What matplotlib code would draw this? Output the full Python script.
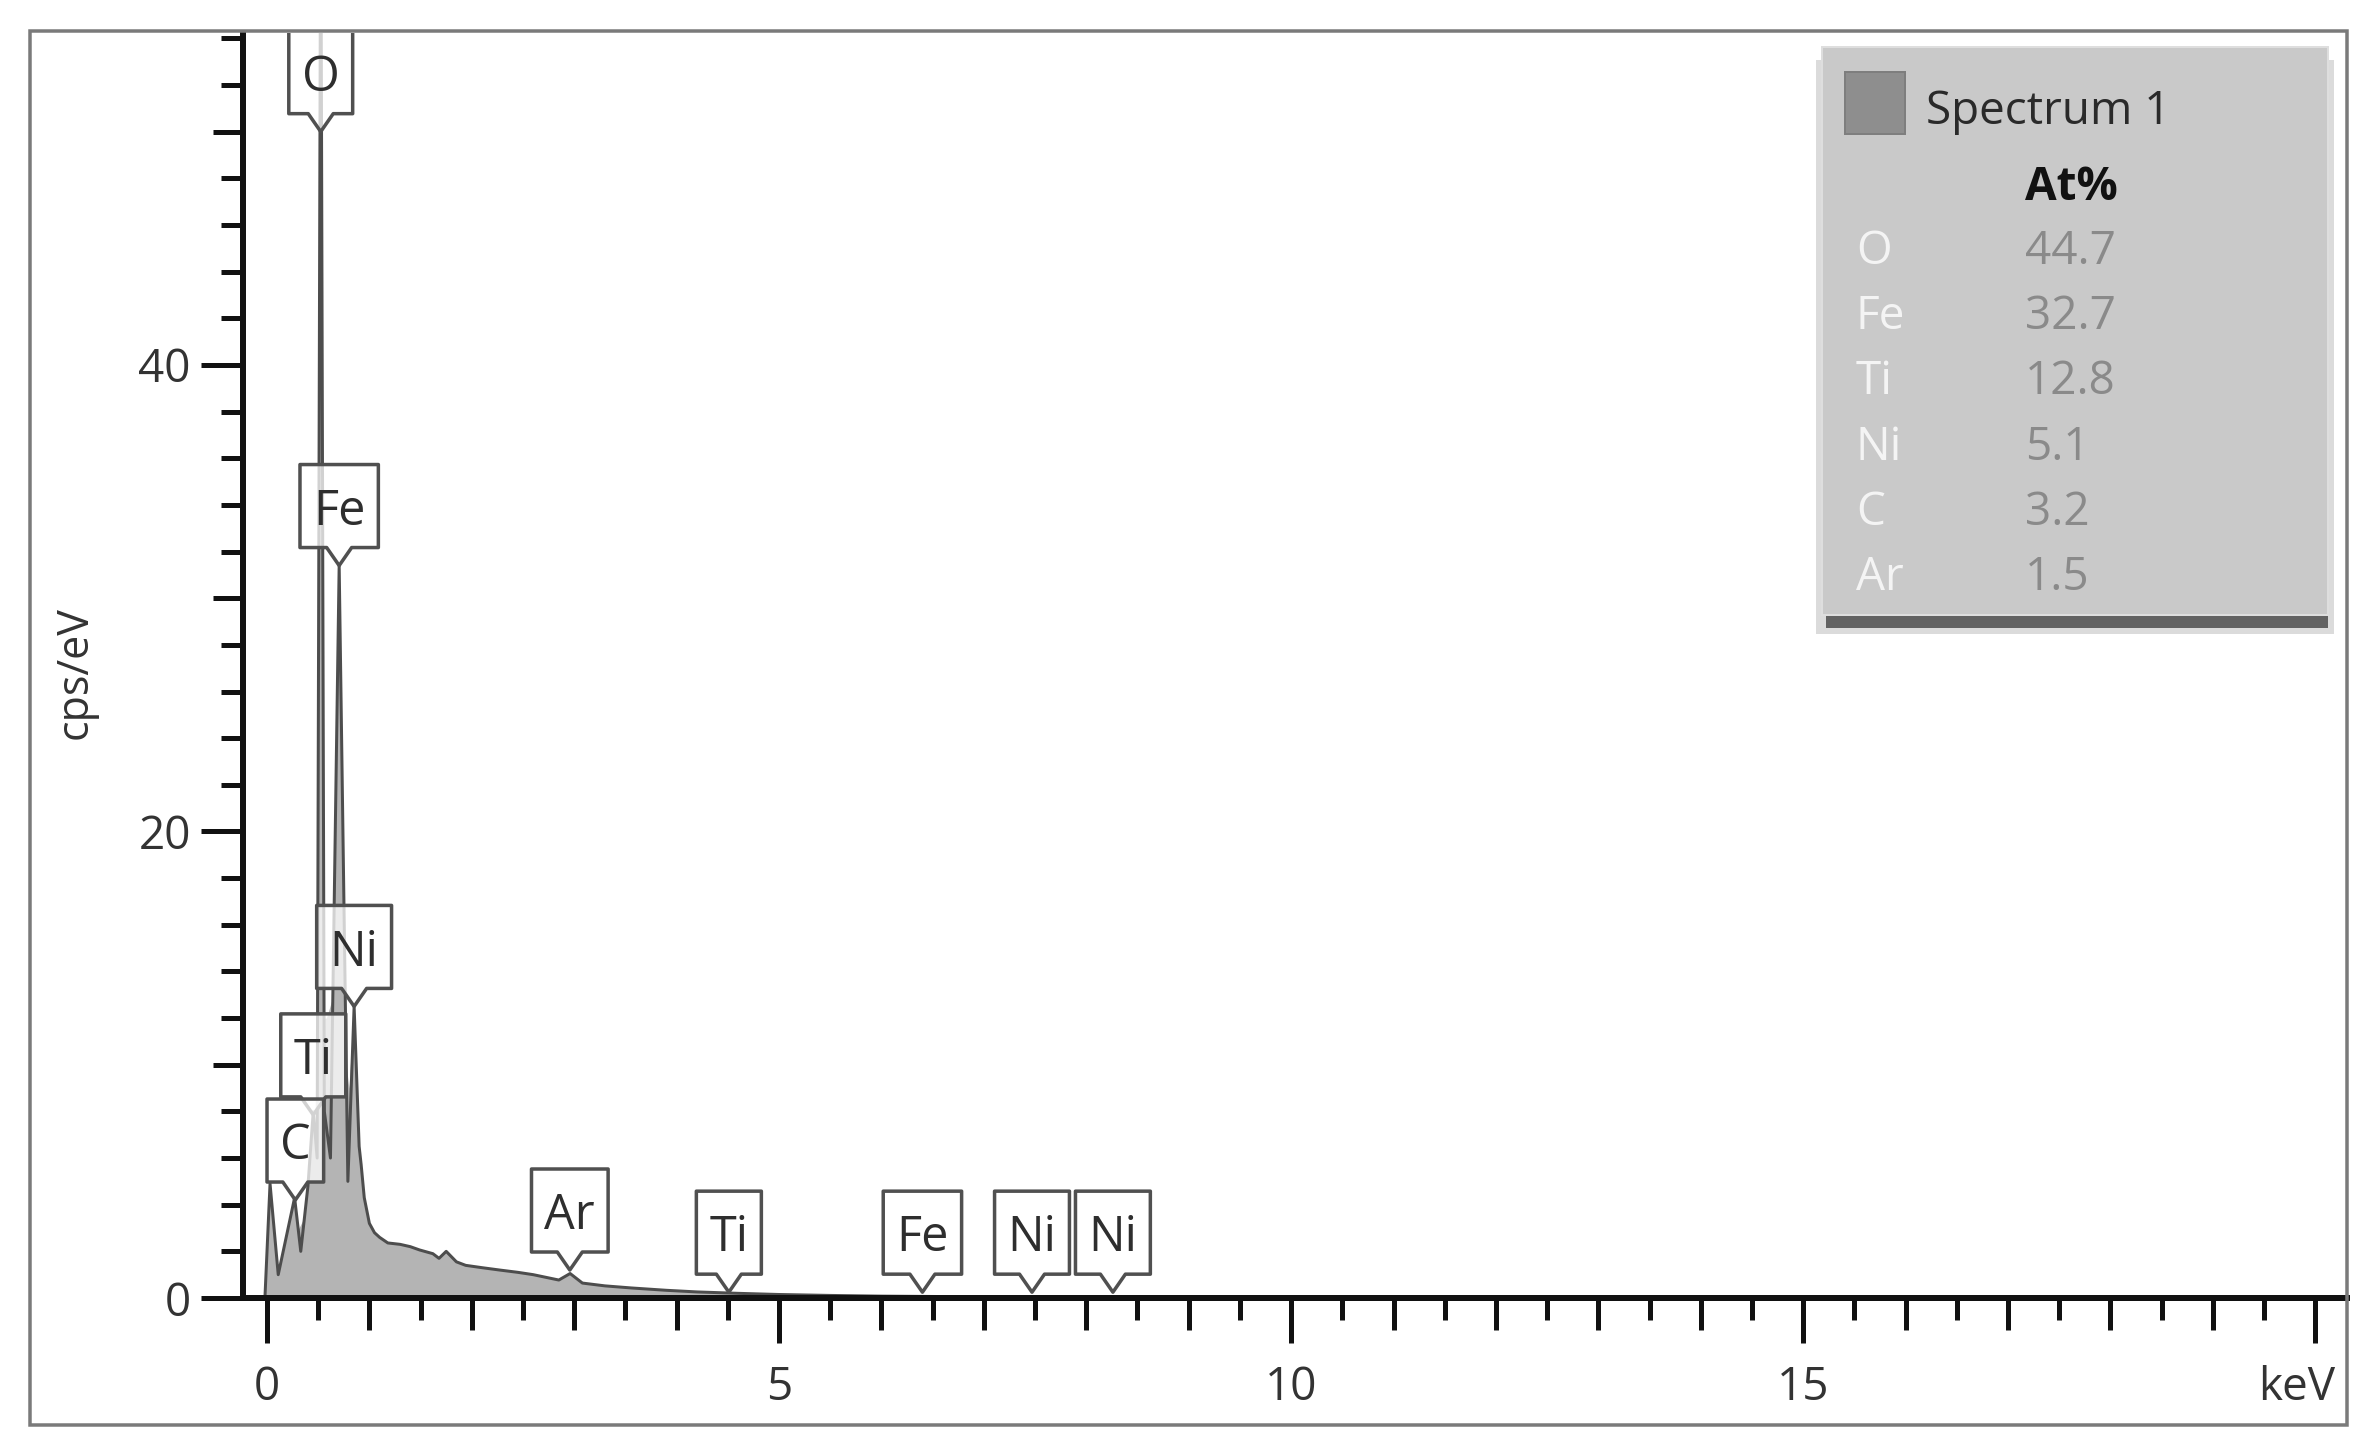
import numpy as np
import matplotlib
matplotlib.use('Agg')
import matplotlib.pyplot as plt
import matplotlib.patches as mpatches
import matplotlib.transforms as mtransforms
from matplotlib.path import Path

plt.rcParams['font.family'] = ['Open Sans', 'DejaVu Sans']

# spectrum outline, keV vs cps/eV
line_kev = [-0.02, 0.03, 0.11, 0.27, 0.33, 0.40, 0.452, 0.49, 0.525, 0.56, 0.62, 0.705,
            0.79, 0.851, 0.90, 0.92, 0.95, 1.00, 1.05, 1.10, 1.18, 1.30, 1.40, 1.49,
            1.62, 1.68, 1.75, 1.85, 1.94, 2.10, 2.27, 2.45, 2.60, 2.85, 2.96, 3.08,
            3.30, 3.56, 3.90, 4.20, 4.60, 5.00, 5.50, 6.00, 7.00, 8.00, 9.00, 10.0,
            12.0, 15.0, 20.3]
line_cps = [0.0, 4.9, 1.0, 4.3, 2.0, 4.8, 8.0, 6.0, 62.0, 8.0, 6.0, 31.4,
            5.0, 12.5, 6.5, 5.7, 4.3, 3.2, 2.8, 2.6, 2.36, 2.3, 2.2, 2.06,
            1.9, 1.7, 2.0, 1.55, 1.4, 1.3, 1.2, 1.1, 1.0, 0.77, 1.05, 0.64,
            0.52, 0.43, 0.33, 0.26, 0.2, 0.15, 0.11, 0.08, 0.05, 0.03, 0.02, 0.02,
            0.01, 0.01, 0.0]

# filled envelope under the low energy peaks
env_kev = [-0.02, 0.0, 0.10, 0.20, 0.30, 0.37, 0.45, 0.50, 0.53, 0.58, 0.65, 0.72,
           0.80, 0.85, 0.90, 0.95, 1.0]
env_cps = [0.0, 0.2, 1.2, 2.2, 2.9, 3.5, 4.2, 4.6, 12.0, 12.0, 13.0, 12.0,
           9.0, 12.5, 6.5, 4.3, 3.2]

# peak tags
tag_names = ['O', 'Fe', 'Ni', 'Ti', 'C', 'Ar', 'Ti', 'Fe', 'Ni', 'Ni']
tag_kev = [0.525, 0.705, 0.851, 0.452, 0.277, 2.957, 4.51, 6.40, 7.47, 8.26]
tag_cps = [50.0, 31.4, 12.5, 7.85, 4.2, 1.2, 0.25, 0.25, 0.25, 0.25]

# quant table
legend_title = 'Spectrum 1'
legend_elements = ['O', 'Fe', 'Ti', 'Ni', 'C', 'Ar']
legend_at = [44.7, 32.7, 12.8, 5.1, 3.2, 1.5]

W, H = 2372, 1454
DPI = 100
fig = plt.figure(figsize=(W / DPI, H / DPI), dpi=DPI)
fig.patch.set_facecolor('white')

def fx(x):
    return x / W

def fy(y):
    return 1 - y / H

def pt(p):
    # pixels -> points
    return p * 72 / DPI

ax = fig.add_axes([fx(243), fy(1298), fx(2347) - fx(243), fy(33) - fy(1298)])
ax.set_xlim(-0.234, 20.31)
ax.set_ylim(0, 54.23)

for s in ['top', 'right']:
    ax.spines[s].set_visible(False)
for s in ['left', 'bottom']:
    ax.spines[s].set_linewidth(pt(6))
    ax.spines[s].set_color('#111111')

# x ticks: 5s long+labelled, integers medium, halves short (20 has no label, keV sits there)
ax.set_xticks([0, 5, 10, 15, 20])
ax.set_xticklabels(['0', '5', '10', '15', ''])
ax.set_xticks(np.arange(0.5, 20.4, 1.0), minor=True)
ax.tick_params(axis='x', which='major', length=pt(45), width=pt(5), color='#111111',
               labelsize=33, labelcolor='#333333', pad=pt(22))
ax.tick_params(axis='x', which='minor', length=pt(22), width=pt(5), color='#111111')
secx = ax.secondary_xaxis('bottom')
secx.set_xticks([i for i in range(1, 20) if i % 5])
secx.tick_params(length=pt(32), width=pt(5), color='#111111', labelbottom=False)
secx.spines['bottom'].set_visible(False)

# y ticks: 20s long+labelled, 10s medium, 2s short
ax.set_yticks([0, 20, 40])
ax.set_yticks([v for v in range(2, 55, 2) if v % 10], minor=True)
ax.tick_params(axis='y', which='major', length=pt(42), width=pt(5), color='#111111',
               labelsize=33, labelcolor='#333333', pad=pt(10))
ax.tick_params(axis='y', which='minor', length=pt(22), width=pt(5), color='#111111')
secy = ax.secondary_yaxis('left')
secy.set_yticks([10, 30, 50])
secy.tick_params(length=pt(30), width=pt(5), color='#111111', labelleft=False)
secy.spines['left'].set_visible(False)

# spectrum
ax.fill_between(env_kev, env_cps, color='#b4b4b4', lw=0, zorder=1)
ax.fill_between(line_kev, line_cps, color='#b4b4b4', lw=0, zorder=1)
ax.plot(line_kev, line_cps, color='#4d4d4d', lw=pt(3), zorder=2)

# tag boxes with a notch pointing at the peak
renderer = fig.canvas.get_renderer()
box_h, nd, nw = 83, 18, 12.5
for i, (name, kx, ky) in enumerate(zip(tag_names, tag_kev, tag_cps)):
    z = 5 + i * 0.1
    t = ax.annotate(name, (kx, ky), xytext=(0, pt(nd + box_h / 2 - 6)), textcoords='offset points',
                    ha='center', va='center', fontsize=35, color='#2e2e2e', zorder=z + 0.05)
    w = t.get_window_extent(renderer).width + 26
    verts = [(0, 0), (nw, nd), (w / 2, nd), (w / 2, nd + box_h), (-w / 2, nd + box_h),
             (-w / 2, nd), (-nw, nd), (0, 0)]
    codes = [Path.MOVETO] + [Path.LINETO] * 6 + [Path.CLOSEPOLY]
    trans = (mtransforms.Affine2D().scale(1 / DPI) + fig.dpi_scale_trans
             + mtransforms.ScaledTranslation(kx, ky, ax.transData))
    patch = mpatches.PathPatch(Path(verts, codes), facecolor=(1, 1, 1, 0.75), edgecolor='#505050',
                               lw=pt(3.5), transform=trans, zorder=z, joinstyle='round')
    ax.add_artist(patch)

# axis labels
fig.text(fx(75), fy(673), 'cps/eV', rotation=90, ha='center', va='center', fontsize=31, color='#333333')
fig.text(fx(2335), fy(1388), 'keV', ha='right', va='center', fontsize=33, color='#333333')

# quant legend box
fig.add_artist(mpatches.Rectangle((fx(1816), fy(634)), (2334 - 1816) / W, (634 - 60) / H,
                                  transform=fig.transFigure, color='#9a9a9a', alpha=0.35, lw=0))
fig.add_artist(mpatches.Rectangle((fx(1826), fy(628)), (2328 - 1826) / W, (628 - 70) / H,
                                  transform=fig.transFigure, color='#444444', alpha=0.8, lw=0))
fig.add_artist(mpatches.Rectangle((fx(1822), fy(615)), (2328 - 1822) / W, (615 - 47) / H,
                                  transform=fig.transFigure, facecolor='#c9c9c9',
                                  edgecolor='#dedede', lw=pt(2)))
fig.add_artist(mpatches.Rectangle((fx(1845), fy(134)), 60 / W, 62 / H, transform=fig.transFigure,
                                  facecolor='#8e8e8e', edgecolor='#7e7e7e', lw=pt(2)))
fig.text(fx(1926), fy(112), legend_title, ha='left', va='center', fontsize=33, color='#2a2a2a')
fig.text(fx(2025), fy(188), 'At%', ha='left', va='center', fontsize=33, color='#111111',
         fontweight='bold')
for i, (el, v) in enumerate(zip(legend_elements, legend_at)):
    y = 252 + i * 65.2
    fig.text(fx(1856), fy(y), el, ha='left', va='center', fontsize=33, color='#f4f4f4')
    fig.text(fx(2025), fy(y), '{:.1f}'.format(v), ha='left', va='center', fontsize=33, color='#8a8a8a')

# outer frame
fig.add_artist(mpatches.Rectangle((fx(30), fy(1425)), (2347 - 30) / W, (1425 - 31) / H,
                                  transform=fig.transFigure, fill=False, edgecolor='#7a7a7a',
                                  lw=pt(3.5), zorder=10))

fig.savefig('out.png', dpi=DPI)
